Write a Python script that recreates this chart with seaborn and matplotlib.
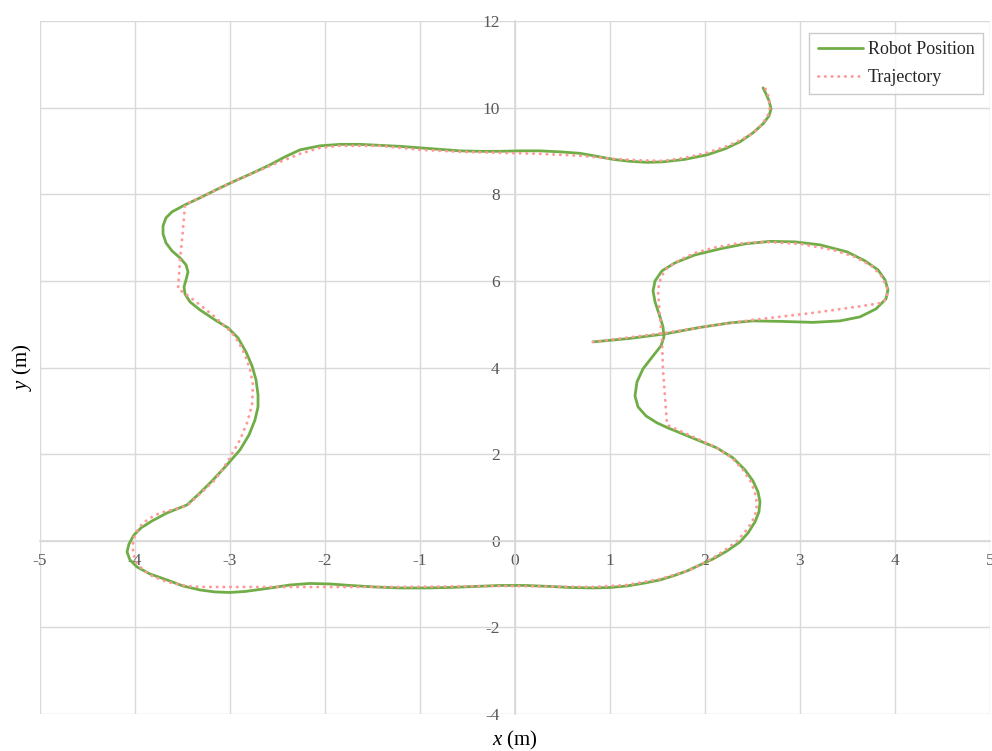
import matplotlib
matplotlib.use("Agg")
import matplotlib.pyplot as plt
import seaborn as sns
import pandas as pd

# Measured robot position (x, y) in metres
robot_x = [0.821, 1.211, 1.579, 1.947, 2.263, 2.505, 2.789, 3.137, 3.421, 3.632,
           3.800, 3.905, 3.926, 3.895, 3.821, 3.684, 3.495, 3.211, 2.947, 2.684,
           2.421, 2.158, 1.895, 1.684, 1.547, 1.474, 1.453, 1.474, 1.516, 1.558,
           1.568, 1.537, 1.453, 1.347, 1.284, 1.263, 1.295, 1.379, 1.495, 1.611,
           1.842, 2.126, 2.295, 2.421, 2.505, 2.558, 2.579, 2.568, 2.526, 2.453,
           2.368, 2.232, 2.084, 1.947, 1.811, 1.663, 1.526, 1.368, 1.179, 1.000,
           0.821, 0.579, 0.368, 0.105, -0.158, -0.421, -0.684, -0.947, -1.211, -1.474,
           -1.737, -1.947, -2.158, -2.368, -2.611, -2.842, -3.000, -3.158, -3.316, -3.495,
           -3.663, -3.842, -3.979, -4.053, -4.084, -4.063, -4.011, -3.937, -3.821, -3.663,
           -3.453, -3.316, -3.189, -3.042, -2.895, -2.800, -2.737, -2.705, -2.705, -2.726,
           -2.768, -2.832, -2.916, -3.021, -3.158, -3.316, -3.421, -3.474, -3.484, -3.463,
           -3.442, -3.463, -3.526, -3.611, -3.674, -3.705, -3.705, -3.674, -3.611, -3.474,
           -3.316, -3.126, -2.947, -2.758, -2.579, -2.421, -2.263, -2.053, -1.842, -1.632,
           -1.421, -1.211, -1.000, -0.789, -0.579, -0.368, -0.158, 0.053, 0.263, 0.474,
           0.684, 0.863, 1.032, 1.211, 1.389, 1.558, 1.789, 2.021, 2.211, 2.368,
           2.505, 2.611, 2.674, 2.695, 2.674, 2.642, 2.611]
robot_y = [4.591, 4.672, 4.776, 4.926, 5.030, 5.076, 5.065, 5.042, 5.076, 5.169,
           5.353, 5.584, 5.792, 6.023, 6.254, 6.462, 6.670, 6.832, 6.901, 6.912,
           6.855, 6.739, 6.600, 6.416, 6.231, 6.000, 5.769, 5.515, 5.238, 4.938,
           4.707, 4.499, 4.268, 3.968, 3.667, 3.344, 3.090, 2.882, 2.721, 2.605,
           2.397, 2.143, 1.912, 1.635, 1.381, 1.127, 0.896, 0.665, 0.434, 0.180,
           -0.028, -0.236, -0.420, -0.559, -0.697, -0.813, -0.905, -0.975, -1.044, -1.079,
           -1.090, -1.079, -1.055, -1.032, -1.032, -1.055, -1.079, -1.090, -1.090, -1.067,
           -1.032, -0.998, -0.986, -1.021, -1.102, -1.171, -1.194, -1.182, -1.136, -1.044,
           -0.905, -0.767, -0.605, -0.443, -0.259, -0.074, 0.134, 0.296, 0.457, 0.642,
           0.827, 1.104, 1.381, 1.727, 2.097, 2.443, 2.790, 3.090, 3.367, 3.714,
           4.037, 4.360, 4.684, 4.915, 5.099, 5.330, 5.515, 5.700, 5.861, 6.023,
           6.208, 6.370, 6.531, 6.693, 6.878, 7.085, 7.270, 7.455, 7.593, 7.755,
           7.917, 8.125, 8.309, 8.494, 8.679, 8.864, 9.025, 9.118, 9.152, 9.152,
           9.129, 9.106, 9.072, 9.037, 9.002, 8.991, 8.991, 9.002, 9.002, 8.979,
           8.945, 8.875, 8.806, 8.760, 8.737, 8.748, 8.806, 8.910, 9.049, 9.210,
           9.418, 9.626, 9.811, 9.972, 10.157, 10.319, 10.457]

# Planned trajectory (x, y) in metres
traj_x = [0.821, 1.579, 2.053, 2.505, 3.137, 3.663, 3.863, 3.916, 3.916, 3.863,
          3.768, 3.579, 3.347, 3.000, 2.611, 2.316, 2.084, 1.895, 1.737, 1.611,
          1.537, 1.505, 1.526, 1.547, 1.558, 1.579, 1.600, 1.737, 1.947, 2.126,
          2.284, 2.400, 2.484, 2.526, 2.547, 2.537, 2.495, 2.421, 2.337, 2.211,
          2.084, 1.947, 1.811, 1.526, 1.179, 0.821, -0.158, -1.211, -2.263, -3.316,
          -3.453, -3.663, -3.821, -3.916, -3.989, -4.021, -4.021, -3.979, -3.916, -3.821,
          -3.737, -3.453, -3.316, -3.158, -3.021, -2.895, -2.821, -2.768, -2.758, -2.789,
          -2.842, -2.905, -2.979, -3.158, -3.316, -3.453, -3.547, -3.537, -3.526, -3.495,
          -3.474, -2.947, -2.579, -2.263, -2.053, -1.842, -1.421, -1.000, -0.579, -0.158,
          0.263, 0.684, 1.032, 1.316, 1.558, 1.789, 2.021, 2.242, 2.442, 2.547,
          2.611, 2.663, 2.684, 2.674, 2.663, 2.632]
traj_y = [4.591, 4.799, 4.961, 5.099, 5.261, 5.423, 5.492, 5.607, 5.838, 6.092,
          6.323, 6.554, 6.716, 6.855, 6.901, 6.855, 6.762, 6.647, 6.485, 6.323,
          6.092, 5.792, 5.169, 4.638, 3.945, 3.321, 2.675, 2.536, 2.328, 2.143,
          1.912, 1.635, 1.358, 1.104, 0.873, 0.665, 0.434, 0.203, -0.005, -0.213,
          -0.397, -0.559, -0.697, -0.882, -1.021, -1.067, -1.044, -1.067, -1.067, -1.067,
          -1.044, -0.952, -0.813, -0.674, -0.490, -0.282, 0.018, 0.226, 0.411, 0.550,
          0.642, 0.804, 1.081, 1.404, 1.843, 2.328, 2.721, 3.136, 3.598, 3.945,
          4.291, 4.568, 4.799, 5.168, 5.446, 5.677, 5.815, 6.139, 6.485, 7.178,
          7.755, 8.309, 8.656, 8.934, 9.072, 9.118, 9.118, 9.026, 8.980, 8.957,
          8.934, 8.888, 8.818, 8.783, 8.772, 8.841, 8.957, 9.118, 9.326, 9.488,
          9.649, 9.834, 10.018, 10.180, 10.295, 10.457]

x_ticks = [-5, -4, -3, -2, -1, 0, 1, 2, 3, 4, 5]
y_ticks = [-4, -2, 0, 2, 4, 6, 8, 10, 12]

robot = pd.DataFrame({"x": robot_x, "y": robot_y})
traj = pd.DataFrame({"x": traj_x, "y": traj_y})

sns.set_theme(style="white")
plt.rcParams["font.family"] = ["Liberation Serif", "DejaVu Serif"]
plt.rcParams["mathtext.fontset"] = "custom"
plt.rcParams["mathtext.it"] = "Liberation Serif:italic"
plt.rcParams["mathtext.rm"] = "Liberation Serif"

fig = plt.figure(figsize=(9.92, 7.51), dpi=100)
ax = fig.add_axes([40 / 992, 37 / 751, 950 / 992, 693 / 751])

green = "#70AD47"
pink = "#FF9999"
grid_c = "#D9D9D9"

sns.lineplot(data=robot, x="x", y="y", sort=False, estimator=None, ax=ax,
             color=green, linewidth=2.0, label="Robot Position", zorder=3)
sns.lineplot(data=traj, x="x", y="y", sort=False, estimator=None, ax=ax,
             color=pink, linewidth=2.1, label="Trajectory", zorder=4,
             linestyle=(0, (0.1, 2.2)), dash_capstyle="round")
for ln in ax.lines:
    ln.set_solid_joinstyle("round")
    ln.set_dash_joinstyle("round")

ax.set_xlim(-5, 5)
ax.set_ylim(-4, 12)
ax.set_xticks(x_ticks)
ax.set_yticks(y_ticks)
ax.set_xticklabels([str(v) for v in x_ticks])
ax.set_yticklabels([str(v) for v in y_ticks])
ax.grid(True, color=grid_c, linewidth=1.0)
ax.set_axisbelow(True)

# Axes cross at the origin
for side in ["top", "right"]:
    ax.spines[side].set_visible(False)
ax.spines["left"].set_position(("data", 0))
ax.spines["bottom"].set_position(("data", 0))
ax.spines["left"].set_color(grid_c)
ax.spines["bottom"].set_color(grid_c)
ax.spines["left"].set_zorder(1)
ax.spines["bottom"].set_zorder(1)
ax.tick_params(axis="both", length=0, labelsize=12.5, labelcolor="#595959")
ax.tick_params(axis="x", pad=9)
ax.tick_params(axis="y", pad=11)

ax.set_xlabel("")
ax.set_ylabel("")
fig.text(515 / 992, 1 - 740 / 751, r"$x$ (m)", ha="center", va="center",
         fontsize=15, color="#000000")
fig.text(22 / 992, 1 - 367 / 751, r"$y$ (m)", ha="center", va="center",
         rotation=90, fontsize=15, color="#000000")

leg = ax.legend(loc="upper right", bbox_to_anchor=(1 - 7 / 950, 1 - 12 / 693),
                borderaxespad=0, fancybox=False, frameon=True, fontsize=13,
                handlelength=2.5, handletextpad=0.3, borderpad=0.45,
                labelspacing=0.6)
leg.get_frame().set_edgecolor("#BFBFBF")
leg.get_frame().set_linewidth(1.0)

fig.savefig("out.png", dpi=100)
